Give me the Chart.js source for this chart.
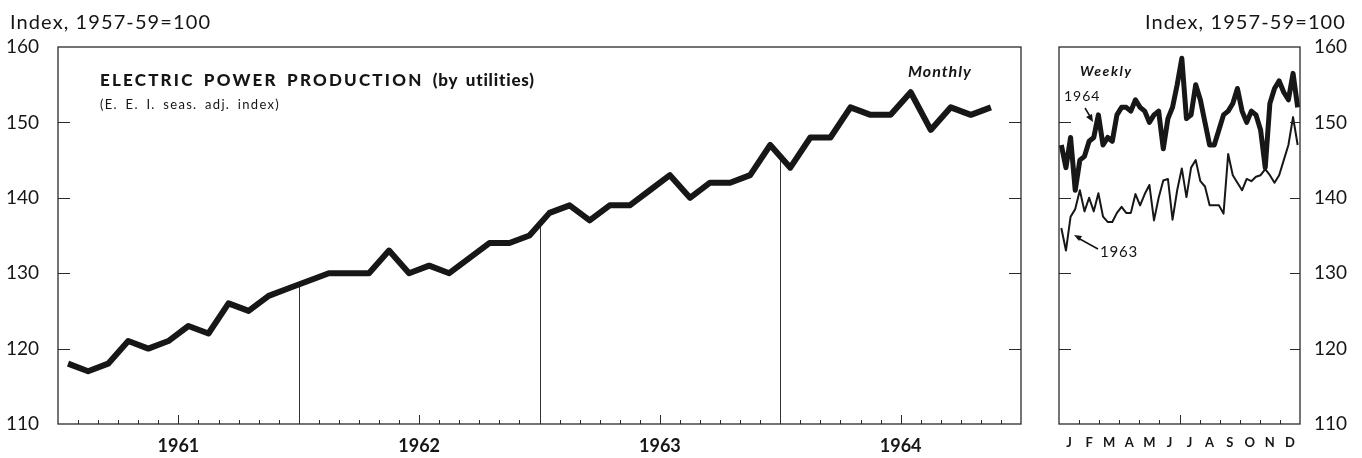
<!DOCTYPE html>
<html>
<head>
<meta charset="utf-8">
<script src="https://cdn.jsdelivr.net/npm/chart.js@4.4.1/dist/chart.umd.min.js"></script>
<style>
  body { margin: 0; background: #fff; width: 1362px; height: 458px; overflow: hidden; position: relative;
         font-family: Lato, "DejaVu Sans", sans-serif; color: #151515; }
  canvas { position: absolute; top: 0; }
  #monthly { left: 0; }
  #weekly { left: 1040px; }
  .t { position: absolute; white-space: nowrap; line-height: 1; }
  svg { position: absolute; left: 0; top: 0; }
</style>
</head>
<body>
<canvas id="monthly" width="1040" height="458"></canvas>
<canvas id="weekly" width="322" height="458"></canvas>

<div class="t" style="left:10px;top:11px;font-size:20px;letter-spacing:1.1px">Index, 1957-59=100</div>
<div class="t" style="right:16px;top:11px;font-size:20px;letter-spacing:1.1px">Index, 1957-59=100</div>
<div class="t" style="left:100px;top:71px;font-size:17px;font-weight:900;letter-spacing:2.2px;word-spacing:3px">ELECTRIC POWER PRODUCTION <span style="letter-spacing:0.8px">(by utilities)</span></div>
<div class="t" style="left:100px;top:98px;font-size:13px;letter-spacing:1.3px;word-spacing:3px">(E. E. I. seas. adj. index)</div>
<div class="t" style="left:908px;top:63px;font-size:16px;font-weight:bold;font-style:italic;letter-spacing:1px">Monthly</div>
<div class="t" style="left:1080px;top:64px;font-size:14px;font-weight:bold;font-style:italic;letter-spacing:1.5px">Weekly</div>
<div class="t" style="left:1064px;top:89px;font-size:14px;letter-spacing:1px">1964</div>
<div class="t" style="left:1100px;top:244px;font-size:15px;letter-spacing:0.8px">1963</div>

<svg width="1362" height="458">
  <g stroke="#151515" stroke-width="1.5" fill="none">
    <line x1="1085" y1="108" x2="1091" y2="118"/>
    <line x1="1098" y1="249" x2="1078" y2="238"/>
  </g>
  <g fill="#151515">
    <polygon points="1093,122 1086,117 1092,114"/>
    <polygon points="1074,235 1082,236 1079,241"/>
  </g>
</svg>

<script>
// monthly index, Jan 1961 - Nov 1964
const yearLabels = ['1961', '1962', '1963', '1964'];
const monthlyValues = [
  118, 117, 118, 121, 120, 121, 123, 122, 126, 125, 127, 128,
  129, 130, 130, 130, 133, 130, 131, 130, 132, 134, 134, 135,
  138, 139, 137, 139, 139, 141, 143, 140, 142, 142, 143, 147,
  144, 148, 148, 152, 151, 151, 154, 149, 152, 151, 152
];

// weekly index, 52 weeks
const monthLetters = ['J', 'F', 'M', 'A', 'M', 'J', 'J', 'A', 'S', 'O', 'N', 'D'];
const weekly1964 = [
  147, 144, 148, 141, 145, 145.5, 147.5, 148, 151, 147, 148, 147.5, 151,
  152, 152, 151.5, 153, 152, 151.5, 150, 151, 151.5, 146.5, 150.5, 152, 155,
  158.5, 150.5, 151, 155, 153, 150, 147, 147, 149, 151, 151.5, 152.5, 154.5,
  151.5, 150, 151.5, 151, 149, 144, 152.5, 154.5, 155.5, 154, 153, 156.5, 152
];
const weekly1963 = [
  136, 133, 137.5, 138.5, 141, 138.2, 140, 138.2, 140.6, 137.5, 136.8, 136.8, 138,
  138.8, 138, 138, 140.5, 139, 140.5, 141.7, 137, 140, 142.3, 142.5, 137.1, 141,
  143.9, 140.1, 144, 145, 142.2, 141.5, 139, 139, 139, 137.9, 145.8, 143, 142,
  141, 142.5, 142.2, 142.8, 143, 143.8, 143, 142, 143, 145, 147, 150.7, 147
];
const yTicks = [110, 120, 130, 140, 150, 160];

const INK = '#171717';

// frame, inward ticks and the year dividers that run up to the line
const frameTicks = {
  id: 'frameTicks',
  beforeDatasetsDraw(chart, args, o) {
    const { ctx, chartArea: a, scales: { x, y } } = chart;
    if (!o.dividers) return;
    const vals = chart.data.datasets[0].data;
    ctx.save();
    ctx.strokeStyle = '#333';
    ctx.lineWidth = 1;
    o.dividers.forEach(m => {
      let v = null;
      for (let i = 0; i < vals.length - 1; i++) {
        if (vals[i].x <= m && vals[i + 1].x >= m) {
          const t = (m - vals[i].x) / (vals[i + 1].x - vals[i].x);
          v = vals[i].y + t * (vals[i + 1].y - vals[i].y);
        }
      }
      if (v === null) return;
      const px = Math.round(x.getPixelForValue(m)) + 0.5;
      ctx.beginPath();
      ctx.moveTo(px, a.bottom);
      ctx.lineTo(px, y.getPixelForValue(v));
      ctx.stroke();
    });
    ctx.restore();
  },
  afterDatasetsDraw(chart, args, o) {
    const { ctx, chartArea: a, scales: { x, y } } = chart;
    ctx.save();
    ctx.strokeStyle = '#2a2a2a';
    ctx.lineWidth = 1.3;
    ctx.strokeRect(a.left, a.top, a.right - a.left, a.bottom - a.top);
    ctx.lineWidth = 1.2;
    yTicks.slice(1, -1).forEach(v => {
      const py = Math.round(y.getPixelForValue(v)) + 0.5;
      ctx.beginPath();
      ctx.moveTo(a.left, py); ctx.lineTo(a.left + o.leftLen, py);
      ctx.moveTo(a.right, py); ctx.lineTo(a.right - o.rightLen, py);
      ctx.stroke();
    });
    ctx.lineWidth = 1;
    for (let m = 1; m < o.months; m++) {
      const px = Math.round(x.getPixelForValue(m)) + 0.5;
      const len = (m % 12 === 6) ? 9 : 4;
      ctx.beginPath();
      ctx.moveTo(px, a.bottom); ctx.lineTo(px, a.bottom - len);
      ctx.stroke();
    }
    ctx.restore();
  }
};

const yScale = (position, width, pad) => ({
  position: position,
  min: 110, max: 160,
  afterBuildTicks: s => { s.ticks = yTicks.map(v => ({ value: v })); },
  afterFit: s => { s.width = width; },
  grid: { display: false, drawTicks: false },
  border: { display: false },
  ticks: { color: INK, padding: pad, font: { family: 'Lato', size: 19 } }
});

new Chart(document.getElementById('monthly'), {
  type: 'line',
  data: {
    datasets: [{
      data: monthlyValues.map((v, i) => ({ x: i + 0.5, y: v })),
      borderColor: INK,
      borderWidth: 6,
      pointRadius: 0,
      tension: 0,
      borderJoinStyle: 'round'
    }]
  },
  options: {
    responsive: false,
    animation: false,
    layout: { padding: { top: 47, right: 19, left: 0, bottom: 0 } },
    scales: {
      x: {
        type: 'linear', min: 0, max: 48,
        afterBuildTicks: s => { s.ticks = yearLabels.map((_, k) => ({ value: 6 + 12 * k })); },
        afterFit: s => { s.height = 34; },
        grid: { display: false, drawTicks: false },
        border: { display: false },
        ticks: {
          color: INK, padding: 11, maxRotation: 0, autoSkip: false,
          font: { family: 'Lato', size: 18, weight: 'bold' },
          callback: (v, i) => yearLabels[i]
        }
      },
      y: yScale('left', 58, 19)
    },
    plugins: {
      legend: { display: false },
      tooltip: { enabled: false },
      frameTicks: { months: 48, leftLen: 12, rightLen: 12, dividers: [12, 24, 36] }
    }
  },
  plugins: [frameTicks]
});

const weekX = k => (k + 0.5) * 12 / 52;

new Chart(document.getElementById('weekly'), {
  type: 'line',
  data: {
    datasets: [{
      label: '1964',
      data: weekly1964.map((v, k) => ({ x: weekX(k), y: v })),
      borderColor: INK,
      borderWidth: 5,
      pointRadius: 0,
      tension: 0,
      borderJoinStyle: 'round'
    }, {
      label: '1963',
      data: weekly1963.map((v, k) => ({ x: weekX(k), y: v })),
      borderColor: INK,
      borderWidth: 2,
      pointRadius: 0,
      tension: 0,
      borderJoinStyle: 'round'
    }]
  },
  options: {
    responsive: false,
    animation: false,
    layout: { padding: { top: 47, left: 19, right: 0, bottom: 0 } },
    scales: {
      x: {
        type: 'linear', min: 0, max: 12,
        afterBuildTicks: s => { s.ticks = monthLetters.map((_, k) => ({ value: k + 0.5 })); },
        afterFit: s => { s.height = 34; },
        grid: { display: false, drawTicks: false },
        border: { display: false },
        ticks: {
          color: INK, padding: 11, maxRotation: 0, autoSkip: false,
          font: { family: 'Lato', size: 13, weight: 'bold' },
          callback: (v, i) => monthLetters[i]
        }
      },
      y: yScale('right', 62, 14)
    },
    plugins: {
      legend: { display: false },
      tooltip: { enabled: false },
      frameTicks: { months: 12, leftLen: 12, rightLen: 10 }
    }
  },
  plugins: [frameTicks]
});
</script>
</body>
</html>
